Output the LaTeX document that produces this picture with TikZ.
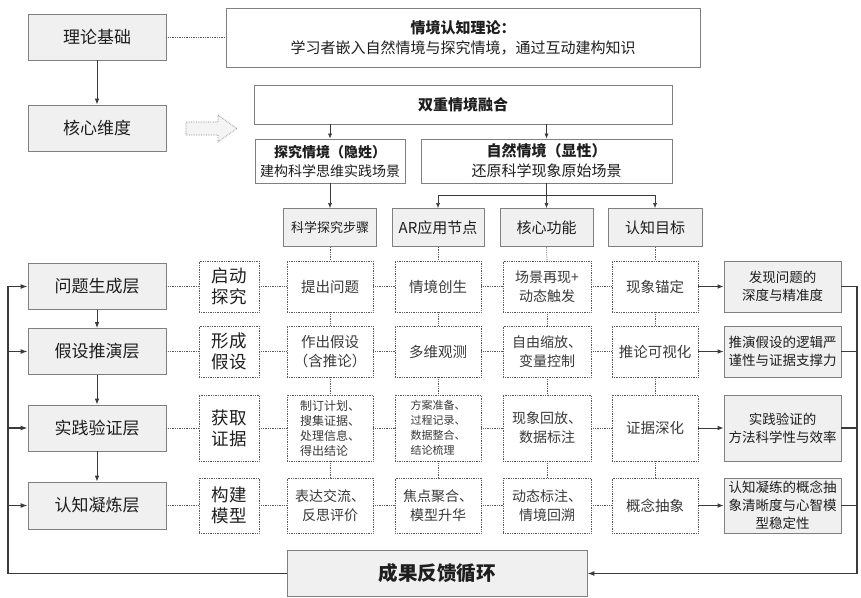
\documentclass[tikz,border=0pt]{standalone}
\usepackage{fontspec}
\setmainfont{Noto Sans CJK SC}
\usetikzlibrary{arrows.meta}
\definecolor{bd}{HTML}{7F7F7F}
\definecolor{gf}{HTML}{F0F0F0}
\definecolor{tx}{HTML}{1E1E1E}
\definecolor{gt}{HTML}{3A3A3A}
\definecolor{dl}{HTML}{5A5A5A}
\definecolor{ln}{HTML}{3A3A3A}
\newcommand{\myfs}[2]{\fontsize{#1}{#2}\selectfont}
\tikzset{
  graybox/.style={draw=bd, fill=gf, line width=0.8pt, inner sep=0pt, align=center, text=tx},
  whitebox/.style={draw=bd, fill=white, line width=0.8pt, inner sep=0pt, align=center, text=tx},
  dotbox/.style={draw=dl, densely dotted, line width=0.75pt, fill=white, inner sep=0pt, align=center, text=gt},
  dotlink/.style={draw=dl, densely dotted, line width=0.75pt},
  arr/.style={draw=ln, line width=0.8pt, -{Latex[length=6pt,width=4.5pt]}},
  thinarr/.style={draw=ln, line width=0.6pt, -{Latex[length=5pt,width=4pt]}},
  fbline/.style={draw=ln, line width=1.3pt},
  fbarr/.style={fbline, -{Latex[length=7pt,width=5pt]}},
  blockarr/.style={draw=bd, densely dotted, line width=0.7pt, fill=gf!70}
}
\begin{document}
\begin{tikzpicture}[x=1pt, y=-1pt]
\useasboundingbox (0,0) rectangle (861,597);

% top
\node[graybox, minimum width=138, minimum height=46, font=\myfs{17}{20}] (theory) at (97,37) {理论基础};
\node[graybox, minimum width=138, minimum height=46, font=\myfs{17}{20}] (core) at (97,128) {核心维度};
\node[whitebox, minimum width=474, minimum height=59, font=\myfs{15}{20}] (sitcog) at (463,37.5) {{\bfseries 情境认知理论：}\\学习者嵌入自然情境与探究情境，通过互动建构知识};
\node[whitebox, minimum width=418, minimum height=39, font=\myfs{15}{18}\bfseries] (dual) at (463,104.5) {双重情境融合};
\node[whitebox, minimum width=150, minimum height=44, font=\myfs{14}{19}] (tanjiu) at (330,161) {{\bfseries 探究情境（隐姓）}\\建构科学思维实践场景};
\node[whitebox, minimum width=251, minimum height=44, font=\myfs{15}{20}] (ziran) at (546.5,161) {{\bfseries 自然情境（显性）}\\还原科学现象原始场景};

\draw[blockarr] (186,122) -- (218,122) -- (218,115) -- (237,128.5) -- (218,142) -- (218,135) -- (186,135) -- cycle;

% headers
\node[graybox, minimum width=93, minimum height=38, font=\myfs{13}{16}] (h1) at (330,227.5) {科学探究步骤};
\node[graybox, minimum width=92, minimum height=38, font=\myfs{15}{18}] (h2) at (438,227.5) {AR应用节点};
\node[graybox, minimum width=93, minimum height=38, font=\myfs{15}{18}] (h3) at (546.5,227.5) {核心功能};
\node[graybox, minimum width=94, minimum height=38, font=\myfs{15}{18}] (h4) at (655,227.5) {认知目标};

% layers
\node[graybox, minimum width=138, minimum height=46, font=\myfs{17}{20}] (L1) at (97,286.5) {问题生成层};
\node[graybox, minimum width=138, minimum height=46, font=\myfs{17}{20}] (L2) at (97,351.5) {假设推演层};
\node[graybox, minimum width=138, minimum height=46, font=\myfs{17}{20}] (L3) at (97,428) {实践验证层};
\node[graybox, minimum width=138, minimum height=47, font=\myfs{17}{20}] (L4) at (97,505.5) {认知凝炼层};

% column 0
\node[dotbox, text=tx, minimum width=60, minimum height=51, font=\myfs{17.5}{21}] (r1c0) at (229,286.5) {启动\\探究};
\node[dotbox, text=tx, minimum width=60, minimum height=51, font=\myfs{17.5}{21}] (r2c0) at (229,351.5) {形成\\假设};
\node[dotbox, text=tx, minimum width=60, minimum height=66, font=\myfs{17.5}{21}] (r3c0) at (229,428) {获取\\证据};
\node[dotbox, text=tx, minimum width=60, minimum height=55, font=\myfs{17.5}{21}] (r4c0) at (229,505.5) {构建\\模型};

% column 1
\node[dotbox, minimum width=86, minimum height=51, font=\myfs{14.5}{19}] (r1c1) at (330,286.5) {提出问题};
\node[dotbox, minimum width=86, minimum height=51, font=\myfs{14.5}{19}] (r2c1) at (330,351.5) {作出假设\\（含推论）};
\node[dotbox, minimum width=86, minimum height=66, font=\myfs{12}{15}, align=left] (r3c1) at (330,428) {制订计划、\\搜集证据、\\处理信息、\\得出结论};
\node[dotbox, minimum width=86, minimum height=55, font=\myfs{14}{19}] (r4c1) at (330,505.5) {表达交流、\\反思评价};

% column 2
\node[dotbox, minimum width=86, minimum height=51, font=\myfs{14.5}{19}] (r1c2) at (438,286.5) {情境创生};
\node[dotbox, minimum width=86, minimum height=51, font=\myfs{14.5}{19}] (r2c2) at (438,351.5) {多维观测};
\node[dotbox, minimum width=86, minimum height=66, font=\myfs{11}{15}, align=left] (r3c2) at (438,428) {方案准备、\\过程记录、\\数据整合、\\结论梳理};
\node[dotbox, minimum width=86, minimum height=55, font=\myfs{14}{19}] (r4c2) at (438,505.5) {焦点聚合、\\模型升华};

% column 3
\node[dotbox, minimum width=88, minimum height=51, font=\myfs{14}{19}] (r1c3) at (547,286.5) {场景再现+\\动态触发};
\node[dotbox, minimum width=88, minimum height=51, font=\myfs{14}{19}] (r2c3) at (547,351.5) {自由缩放、\\变量控制};
\node[dotbox, minimum width=88, minimum height=66, font=\myfs{14}{19}] (r3c3) at (547,428) {现象回放、\\数据标注};
\node[dotbox, minimum width=88, minimum height=55, font=\myfs{14}{19}] (r4c3) at (547,505.5) {动态标注、\\情境回溯};

% column 4
\node[dotbox, minimum width=86, minimum height=51, font=\myfs{14.5}{19}] (r1c4) at (655,286.5) {现象锚定};
\node[dotbox, minimum width=86, minimum height=51, font=\myfs{14.5}{19}] (r2c4) at (655,351.5) {推论可视化};
\node[dotbox, minimum width=86, minimum height=66, font=\myfs{14.5}{19}] (r3c4) at (655,428) {证据深化};
\node[dotbox, minimum width=86, minimum height=55, font=\myfs{14.5}{19}] (r4c4) at (655,505.5) {概念抽象};

% outcomes
\node[graybox, minimum width=117, minimum height=51, font=\myfs{13.5}{18}] (o1) at (782.5,286.5) {发现问题的\\深度与精准度};
\node[graybox, minimum width=117, minimum height=51, font=\myfs{13.5}{18}] (o2) at (782.5,351.5) {推演假设的逻辑严\\谨性与证据支撑力};
\node[graybox, minimum width=117, minimum height=66, font=\myfs{13.5}{18}] (o3) at (782.5,428) {实践验证的\\方法科学性与效率};
\node[graybox, minimum width=117, minimum height=55, font=\myfs{13.5}{18}] (o4) at (782.5,505.5) {认知凝练的概念抽\\象清晰度与心智模\\型稳定性};

% feedback box
\node[graybox, minimum width=300, minimum height=46, font=\myfs{19.5}{22}\bfseries] (fb) at (437,573.5) {成果反馈循环};

\coordinate (rx) at (857,0);
\coordinate (lx) at (8,0);
\coordinate (br) at (546.5,195);

% top connectors
\draw[dotlink] (theory.east) -- (sitcog.west |- theory.east);
\draw[arr] (theory.south) -- (core.north);
\draw[thinarr] (dual.south -| tanjiu.north) -- (tanjiu.north);
\draw[thinarr] (dual.south -| ziran.north) -- (ziran.north);
\draw[thinarr] (tanjiu.south) -- (h1.north);
\draw[draw=ln, line width=0.6pt] (ziran.south) -- (br);
\draw[thinarr] (br) -- (h3.north);
\draw[thinarr] (br) -| (h2.north);
\draw[thinarr] (br) -| (h4.north);

% layer arrows
\draw[arr] (L1.south) -- (L2.north);
\draw[arr] (L2.south) -- (L3.north);
\draw[arr] (L3.south) -- (L4.north);

% grid links
\foreach \r/\L in {1/L1,2/L2,3/L3,4/L4}{
  \draw[dotlink] (\L.east) -- (r\r c0.west);
  \draw[dotlink] (r\r c0.east) -- (r\r c1.west);
  \draw[dotlink] (r\r c1.east) -- (r\r c2.west);
  \draw[dotlink] (r\r c2.east) -- (r\r c3.west);
  \draw[dotlink] (r\r c3.east) -- (r\r c4.west);
  \draw[arr] (r\r c4.east) -- (o\r.west);
}
\foreach \c in {1,2,3,4}{
  \draw[dotlink] (h\c.south) -- (r1c\c.north);
  \draw[dotlink] (r1c\c.south) -- (r2c\c.north);
  \draw[dotlink] (r2c\c.south) -- (r3c\c.north);
  \draw[dotlink] (r3c\c.south) -- (r4c\c.north);
}

% feedback loop
\draw[fbarr] (o1.east) -- (rx |- o1.east) |- (fb.east);
\draw[fbline] (o2.east) -- (rx |- o2.east);
\draw[fbline] (o3.east) -- (rx |- o3.east);
\draw[fbline] (o4.east) -- (rx |- o4.east);
\draw[fbarr] (fb.west) -| (lx |- L1.west) -- (L1.west);
\draw[fbarr] (lx |- L2.west) -- (L2.west);
\draw[fbarr] (lx |- L3.west) -- (L3.west);
\draw[fbarr] (lx |- L4.west) -- (L4.west);
\end{tikzpicture}
\end{document}
